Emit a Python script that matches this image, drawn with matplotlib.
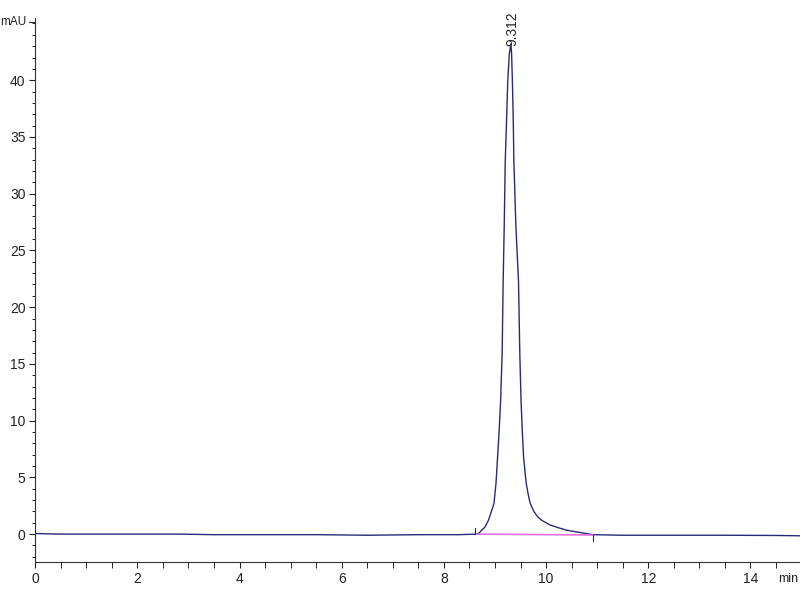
import matplotlib
matplotlib.use("Agg")
import matplotlib.pyplot as plt
import numpy as np

# trace (time in min, signal in mAU)
time = [0.0, 0.5, 1.5, 2.8, 3.5, 4.5, 5.5, 6.5, 7.5, 8.3, 8.64,
        8.69, 8.74, 8.80, 8.87, 8.93, 8.98, 9.02, 9.05, 9.08, 9.11, 9.14,
        9.16, 9.18, 9.20, 9.23, 9.25, 9.28, 9.312,
        9.325, 9.34, 9.355, 9.37, 9.41, 9.46, 9.485, 9.51, 9.535, 9.56,
        9.61, 9.65, 9.69, 9.76, 9.84, 9.92, 10.08, 10.25, 10.40, 10.65, 10.92,
        11.5, 12.5, 13.5, 14.5, 15.0]
signal = [0.05, 0.0, 0.0, 0.0, -0.05, -0.05, -0.05, -0.1, -0.05, -0.05, 0.0,
          0.1, 0.35, 0.6, 1.2, 2.0, 2.7, 4.5, 6.75, 9.0, 11.75, 16.0,
          22.3, 27.0, 32.8, 37.0, 40.0, 42.3, 43.2,
          42.3, 40.0, 37.0, 32.8, 27.0, 22.3, 16.0, 11.75, 9.0, 6.75,
          4.5, 3.5, 2.7, 2.0, 1.5, 1.2, 0.8, 0.55, 0.35, 0.15, -0.05,
          -0.1, -0.1, -0.1, -0.12, -0.15]

# integration baseline of the peak
base_t = [8.64, 10.92]
base_y = [0.0, -0.08]

peak_rt = 9.312
peak_h = 43.2
peak_label = "9.312"

plt.rcParams["font.family"] = ["Liberation Sans", "DejaVu Sans"]

fig = plt.figure(figsize=(8, 6), dpi=100)
ax = fig.add_axes([0.044, 0.0633, 0.956, 0.907])

ax.plot(time, signal, color="#2a2a78", linewidth=1.0)
ax.plot(base_t, base_y, color="#e070e0", linewidth=1.2)
# baseline start / end markers
ax.plot([base_t[0] - 0.04, base_t[0] - 0.04], [0.0, 0.5], color="#25256e", linewidth=0.8)
ax.plot([base_t[1], base_t[1]], [-0.1, -0.6], color="#25256e", linewidth=0.8)

ax.text(peak_rt + 0.02, peak_h - 0.2, peak_label, rotation=90, ha="center", va="bottom",
        fontsize=10, color="#222222")

ax.set_xlim(0, 14.97)
ax.set_ylim(-2.46, 45.5)

ax.set_xticks([0, 2, 4, 6, 8, 10, 12, 14])
ax.set_xticks(np.arange(0, 15, 0.5), minor=True)
ax.set_yticks([0, 5, 10, 15, 20, 25, 30, 35, 40])
ax.set_yticks(np.arange(-2, 46, 1), minor=True)

ax.tick_params(axis="both", labelsize=10, colors="#222222", width=0.8)
ax.tick_params(axis="x", which="both", length=4.3, pad=3)
ax.tick_params(axis="y", which="major", length=4.3, pad=2.6)
ax.tick_params(axis="y", which="minor", length=2.2)

ax.spines["top"].set_visible(False)
ax.spines["right"].set_visible(False)
ax.spines["left"].set_color("#333333")
ax.spines["bottom"].set_color("#333333")

# axis unit labels
ax.text(-0.17, 45.1, "mAU", ha="right", va="center", fontsize=8.5, color="#222222", clip_on=False)
ax.text(14.94, -4.0, "min", ha="right", va="center", fontsize=9, color="#222222", clip_on=False)

# mAU tick at the top
ax.plot([-0.12, 0], [45.1, 45.1], color="#333333", linewidth=0.8, clip_on=False)

fig.savefig("out.png", dpi=100)
